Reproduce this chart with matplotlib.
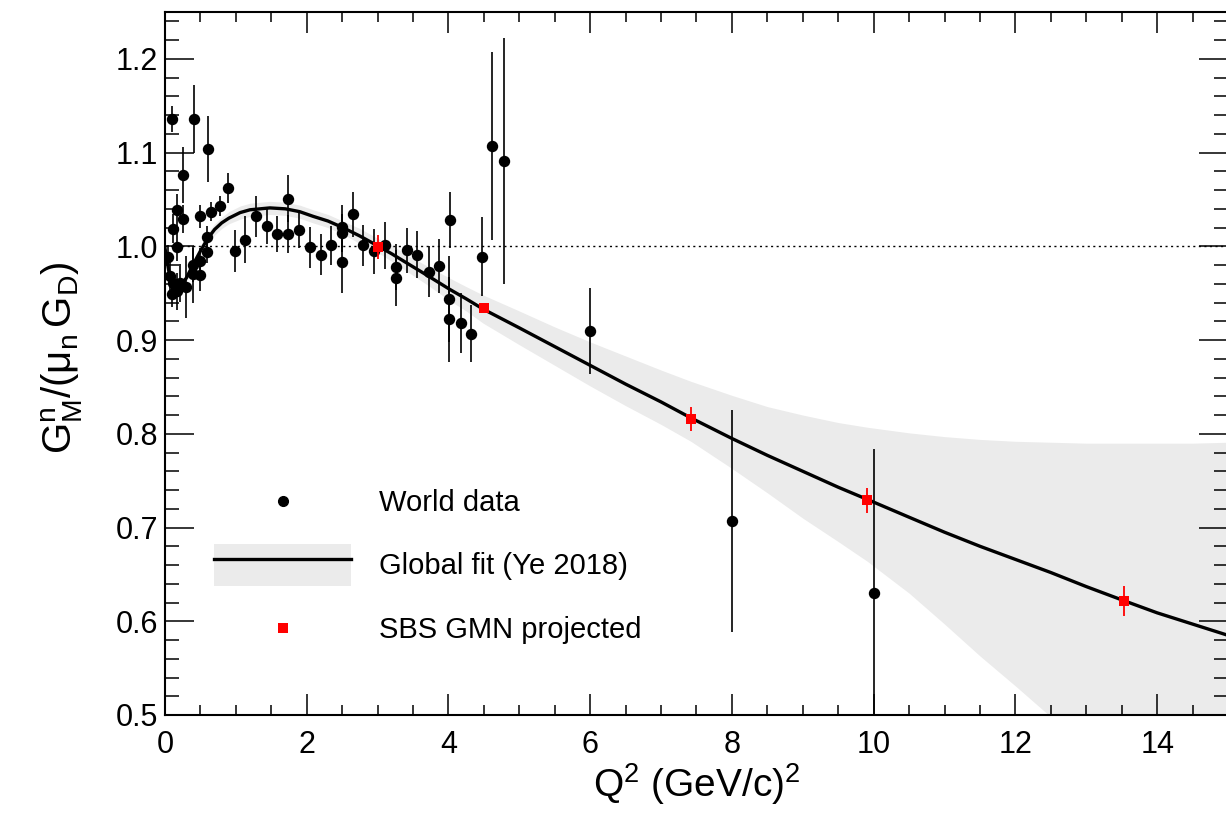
import matplotlib
matplotlib.use("Agg")
import matplotlib.pyplot as plt
from matplotlib.lines import Line2D
from matplotlib.patches import Patch
from matplotlib.legend_handler import HandlerLine2D
from matplotlib.ticker import MultipleLocator

plt.rcParams['font.family'] = ['Liberation Sans', 'DejaVu Sans']
plt.rcParams['mathtext.fontset'] = 'custom'
plt.rcParams['mathtext.rm'] = 'Liberation Sans'
plt.rcParams['mathtext.it'] = 'Liberation Sans'
plt.rcParams['mathtext.bf'] = 'Liberation Sans:bold'

# ---------------- data ----------------
world_q2 = [0.04, 0.10, 0.41, 0.61, 0.25, 0.89, 0.78, 0.65, 0.49, 0.17,
            0.25, 0.11, 0.59, 0.17, 0.59, 0.99, 0.49, 0.40, 0.07, 0.11,
            0.10, 0.17, 0.30, 0.21, 0.40, 0.49, 1.13, 1.29, 1.44, 1.58,
            1.74, 1.74, 1.89, 2.05, 2.20, 2.34, 2.50, 2.50, 2.50, 2.65,
            2.80, 2.95, 3.11, 3.26, 3.26, 3.41, 3.56, 3.72, 3.87, 4.02,
            4.01, 4.01, 4.17, 4.32, 4.47, 4.62, 4.78, 6.00, 8.00, 10.00]
world_g = [0.989, 1.136, 1.136, 1.104, 1.076, 1.062, 1.043, 1.037, 1.032, 1.039,
           1.029, 1.019, 1.010, 0.999, 0.994, 0.995, 0.984, 0.980, 0.968, 0.961,
           0.949, 0.952, 0.957, 0.961, 0.970, 0.969, 1.007, 1.032, 1.022, 1.013,
           1.051, 1.013, 1.017, 0.999, 0.991, 1.001, 1.021, 1.014, 0.983, 1.034,
           1.001, 0.995, 1.001, 0.978, 0.966, 0.996, 0.991, 0.973, 0.979, 1.028,
           0.944, 0.922, 0.918, 0.907, 0.989, 1.107, 1.091, 0.910, 0.707, 0.630]
world_err = [0.012, 0.014, 0.036, 0.035, 0.030, 0.016, 0.011, 0.010, 0.012, 0.017,
             0.015, 0.015, 0.012, 0.015, 0.012, 0.022, 0.014, 0.018, 0.015, 0.012,
             0.014, 0.020, 0.033, 0.020, 0.030, 0.017, 0.025, 0.022, 0.020, 0.019,
             0.025, 0.020, 0.019, 0.022, 0.022, 0.021, 0.023, 0.020, 0.033, 0.024,
             0.022, 0.024, 0.025, 0.025, 0.030, 0.024, 0.025, 0.027, 0.029, 0.030,
             0.046, 0.045, 0.032, 0.030, 0.042, 0.100, 0.131, 0.046, 0.118, 0.154]

fit_q2 = [0.0, 0.05, 0.11, 0.2, 0.3, 0.4, 0.5, 0.6, 0.7, 0.8, 0.9, 1.06, 1.2,
          1.48, 1.7, 1.9, 2.09, 2.3, 2.51, 2.75, 2.99, 3.2, 3.46, 3.7, 4.02,
          4.25, 4.49, 5.0, 5.5, 6.0, 6.5, 7.0, 7.42, 8.0, 8.5, 9.0, 9.5, 9.91,
          10.5, 11.0, 11.5, 12.0, 12.5, 13.0, 13.53, 14.0, 14.5, 15.0]
fit_g = [0.998, 0.975, 0.955, 0.957, 0.966, 0.981, 0.995, 1.008, 1.018, 1.025,
         1.030, 1.036, 1.039, 1.041, 1.040, 1.037, 1.032, 1.027, 1.020, 1.011,
         1.001, 0.992, 0.980, 0.969, 0.954, 0.944, 0.933, 0.913, 0.893, 0.873,
         0.853, 0.834, 0.817, 0.795, 0.777, 0.760, 0.743, 0.730, 0.711, 0.695,
         0.680, 0.666, 0.652, 0.637, 0.622, 0.609, 0.597, 0.585]
fit_lo = [0.994, 0.971, 0.951, 0.953, 0.962, 0.976, 0.989, 1.002, 1.012, 1.019,
          1.024, 1.029, 1.032, 1.034, 1.033, 1.030, 1.025, 1.020, 1.013, 1.003,
          0.994, 0.984, 0.971, 0.959, 0.942, 0.931, 0.918, 0.895, 0.873, 0.851,
          0.830, 0.810, 0.792, 0.763, 0.737, 0.710, 0.685, 0.664, 0.630, 0.597,
          0.563, 0.531, 0.498, 0.466, 0.432, 0.400, 0.365, 0.330]
fit_hi = [1.002, 0.979, 0.959, 0.961, 0.970, 0.986, 1.001, 1.014, 1.024, 1.031,
          1.037, 1.043, 1.046, 1.048, 1.047, 1.044, 1.039, 1.034, 1.027, 1.019,
          1.009, 1.001, 0.989, 0.979, 0.966, 0.957, 0.948, 0.931, 0.914, 0.898,
          0.883, 0.868, 0.856, 0.841, 0.829, 0.820, 0.812, 0.807, 0.801, 0.797,
          0.794, 0.792, 0.791, 0.790, 0.790, 0.790, 0.790, 0.791]

sbs_q2 = [3.0, 4.5, 7.42, 9.91, 13.53]
sbs_g = [0.999, 0.934, 0.816, 0.729, 0.622]
sbs_err = [0.013, 0.004, 0.013, 0.013, 0.016]

labels = ['World data', 'Global fit (Ye 2018)', 'SBS GMN projected']

# ---------------- figure ----------------
W, H = 1226, 823
fig = plt.figure(figsize=(W / 100, H / 100), dpi=100)
ax = fig.add_axes([165 / W, (H - 715) / H, (1228 - 165) / W, (715 - 12) / H])

band_col = '#ebebeb'
ax.fill_between(fit_q2, fit_lo, fit_hi, color=band_col, lw=0, zorder=1)
ax.plot(fit_q2, fit_g, color='black', lw=2.4, zorder=3, solid_joinstyle='round')
ax.axhline(1.0, color='black', lw=1.0, ls=(0, (1.5, 2.5)), zorder=2)

ax.errorbar(world_q2, world_g, yerr=world_err, fmt='o', color='black',
            ms=7.2, elinewidth=1.2, capsize=0, zorder=4)
ax.errorbar(sbs_q2, sbs_g, yerr=sbs_err, fmt='s', color='red',
            ms=7.4, elinewidth=1.3, capsize=0, zorder=5, markeredgewidth=0)

ax.set_xlim(0, 15)
ax.set_ylim(0.5, 1.25)
ax.xaxis.set_major_locator(MultipleLocator(2))
ax.xaxis.set_minor_locator(MultipleLocator(0.5))
ax.yaxis.set_minor_locator(MultipleLocator(0.02))
ax.set_yticks([0.5, 0.6, 0.7, 0.8, 0.9, 1.0, 1.1, 1.2])
ax.set_yticklabels(['0.5', '0.6', '0.7', '0.8', '0.9', '1.0', '1.1', '1.2'])

ax.tick_params(which='both', direction='in', top=True, right=True,
               width=1.1, labelsize=22, color='black')
ax.tick_params(axis='x', which='major', length=15, pad=11)
ax.tick_params(axis='x', which='minor', length=7.5)
ax.tick_params(axis='y', which='major', length=21, pad=5)
ax.tick_params(axis='y', which='minor', length=10)
for s in ax.spines.values():
    s.set_linewidth(1.5)

fig.text(697 / W, 1 - 784 / H, r'Q$^{2}$ (GeV/c)$^{2}$', fontsize=28,
         ha='center', va='center')
fig.text(62 / W, 1 - 358 / H, r'$\mathregular{G^{n}_{M}/(\mu_{n}\,G_{D})}$',
         fontsize=29, ha='center', va='center', rotation=90)


class LoweredMarker(HandlerLine2D):
    """Marker handle centred on the text rather than on the tall handle box."""
    def create_artists(self, legend, orig_handle, xdescent, ydescent,
                       width, height, fontsize, trans):
        return super().create_artists(legend, orig_handle, xdescent,
                                      ydescent + 7.5, width, height,
                                      fontsize, trans)


h_world = Line2D([], [], marker='o', color='black', ls='none', ms=7)
h_fit = (Patch(facecolor=band_col, edgecolor='none'),
         Line2D([], [], color='black', lw=2.4))
h_sbs = Line2D([], [], marker='s', color='red', ls='none', ms=7,
               markeredgewidth=0)
leg = fig.legend([h_world, h_fit, h_sbs], labels, loc='center left',
                 bbox_to_anchor=(214 / W, 1 - 565 / H), frameon=False,
                 fontsize=21, handlelength=4.7, handleheight=1.85,
                 handletextpad=0.97, labelspacing=0.72, borderpad=0,
                 borderaxespad=0,
                 handler_map={h_world: LoweredMarker(), h_sbs: LoweredMarker()})

fig.savefig('out.png', dpi=100)
